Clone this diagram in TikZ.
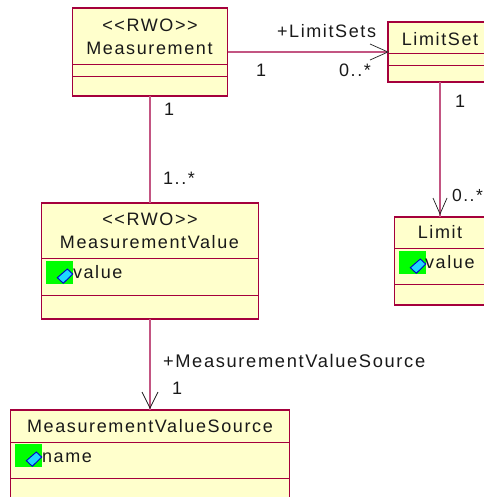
\documentclass[tikz,border=0pt]{standalone}
\usepackage{fontspec}
\setmainfont[LetterSpace=9,Ligatures=NoCommon]{Liberation Sans}
\definecolor{umlborder}{RGB}{165,0,60}
\definecolor{umlline}{RGB}{195,85,130}
\definecolor{umlfill}{RGB}{255,255,204}
\definecolor{umlgreen}{RGB}{0,255,0}
\definecolor{umlcyan}{RGB}{30,215,255}
\definecolor{umlblue}{RGB}{0,0,200}
\definecolor{inktext}{RGB}{25,25,25}
\newcommand{\attricon}[2]{%
  \fill[umlgreen] (#1,#2) rectangle ++(27,23);
  \draw[draw=umlblue,fill=umlcyan,line width=0.9pt] (#1+26.7,#2+13) -- (#1+17.3,#2+22.3) -- (#1+11.3,#2+16.7) -- (#1+21.3,#2+8) -- cycle;
}
\tikzset{
  x=1pt,y=-1pt,
  classbox/.style={draw=umlborder,fill=umlfill,line width=1.2pt,inner sep=0pt,outer sep=0pt,anchor=north west},
  sepline/.style={draw=umlborder,line width=0.9pt},
  conn/.style={draw=umlline,line width=1.3pt},
  barb/.style={draw=inktext,line width=0.7pt},
  lbl/.style={inner sep=0pt,outer sep=0pt,text=inktext,font=\fontsize{18}{20}\selectfont,anchor=base},
  lblw/.style={lbl,anchor=base west},
}
\begin{document}
\begin{tikzpicture}
\useasboundingbox (0,0) rectangle (483,497);
% class boxes
\node[classbox,minimum width=155pt,minimum height=88pt] (m) at (72.5,8) {};
\node[classbox,minimum width=104pt,minimum height=60pt] (ls) at (388,22) {};
\node[classbox,minimum width=91pt,minimum height=88pt] (lim) at (394.5,217) {};
\node[classbox,minimum width=217pt,minimum height=116pt] (mv) at (41.5,203) {};
\node[classbox,minimum width=279pt,minimum height=110pt] (mvs) at (10.5,410) {};
% compartments
\draw[sepline] (m.west |- 0,64) -- (m.east |- 0,64);
\draw[sepline] (m.west |- 0,76) -- (m.east |- 0,76);
\draw[sepline] (ls.west |- 0,53) -- (ls.east |- 0,53);
\draw[sepline] (ls.west |- 0,65) -- (ls.east |- 0,65);
\draw[sepline] (lim.west |- 0,248) -- (lim.east |- 0,248);
\draw[sepline] (lim.west |- 0,284) -- (lim.east |- 0,284);
\draw[sepline] (mv.west |- 0,258) -- (mv.east |- 0,258);
\draw[sepline] (mv.west |- 0,295) -- (mv.east |- 0,295);
\draw[sepline] (mvs.west |- 0,442) -- (mvs.east |- 0,442);
\draw[sepline] (mvs.west |- 0,478) -- (mvs.east |- 0,478);
% connectors
\draw[conn] (m.east) -- (ls.west);
\draw[conn] (m.south) -- (mv.north);
\draw[conn] (ls.south) -- (lim.north);
\draw[conn] (mv.south) -- (mvs.north);
% open arrowheads
\draw[barb] (ls.west) ++(-18,-8) -- (ls.west) -- ++(-18,8);
\draw[barb] (lim.north) ++(-7,-19) -- ++(7,16) -- ++(7,-16);
\draw[barb] (mvs.north) ++(-8,-18) -- ++(8,16) -- ++(8,-16);
% attribute icons
\attricon{46}{261}
\attricon{399}{251}
\attricon{15}{444}
% class texts
\node[lbl] (t1) at (150,32) {{<}{<}RWO{>}{>}};
\node[lbl] (t2) at (149.5,55) {Measurement};
\node[lbl] (t3) at (440,46) {LimitSet};
\node[lbl] (t4) at (150,225) {{<}{<}RWO{>}{>}};
\node[lbl] (t5) at (149.5,248) {MeasurementValue};
\node[lblw] (t6) at (73,278) {value};
\node[lbl] (t7) at (440,238) {Limit};
\node[lblw] (t8) at (425,268) {value};
\node[lbl] (t9) at (150,432) {MeasurementValueSource};
\node[lblw] (t10) at (42,462) {name};
% association labels
\node[lblw] (a1) at (277,38) {+LimitSets};
\node[lblw] (a2) at (256,77) {1};
\node[lblw] (a3) at (339,77) {0..*};
\node[lblw] (a4) at (164,116) {1};
\node[lblw] (a5) at (163,184) {1..*};
\node[lblw] (a6) at (455,108) {1};
\node[lblw,font=\fontsize{17.5}{20}\selectfont] (a7) at (452,201) {0..*};
\node[lblw,font=\fontsize{18.3}{20}\selectfont] (a8) at (163,367) {+MeasurementValueSource};
\node[lblw] (a9) at (172,394) {1};
\end{tikzpicture}
\end{document}
